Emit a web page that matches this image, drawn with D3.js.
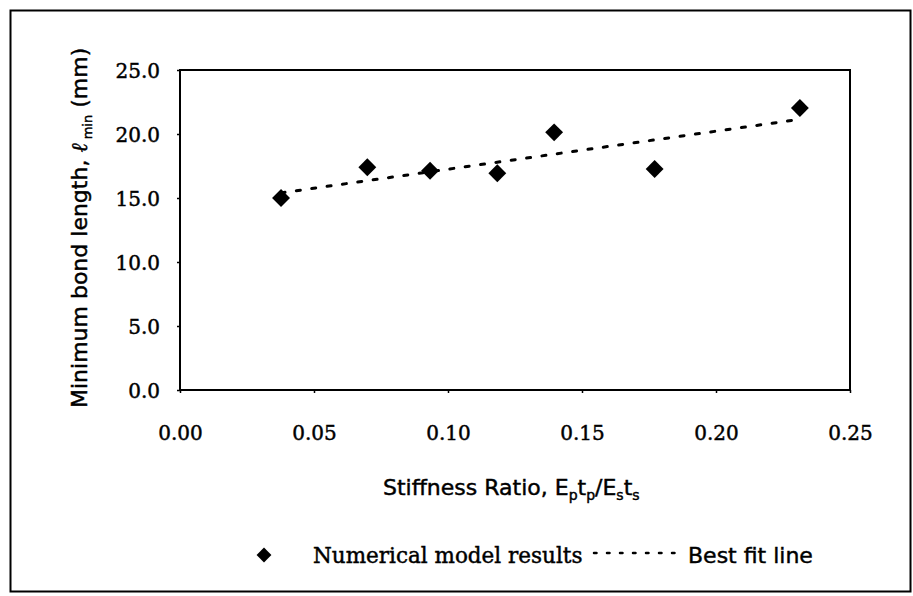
<!DOCTYPE html>
<html>
<head>
<meta charset="utf-8">
<script src="https://cdn.jsdelivr.net/npm/d3@7"></script>
<style>
  html, body { margin: 0; padding: 0; background: #fff; }
  svg { display: block; }
  text { stroke: #000; stroke-width: 0.45px; }
</style>
</head>
<body>
<svg id="chart" width="913" height="596"></svg>
<script>
// ---- data ----
const stiffnessRatio = [0.0377, 0.0699, 0.0933, 0.1184, 0.1396, 0.1771, 0.2313];
const minBondLength  = [15.0, 17.4, 17.13, 16.93, 20.13, 17.27, 22.03];
const fitX = [0.0377, 0.2313];
const fitY = [15.4, 21.15];
const xTicks = [0.00, 0.05, 0.10, 0.15, 0.20, 0.25];
const yTicks = [0, 5, 10, 15, 20, 25];
const seriesNames = ["Numerical model results", "Best fit line"];

// ---- layout ----
const svg = d3.select("#chart");
const plot = { left: 180, top: 70, right: 850, bottom: 390 };

const x = d3.scaleLinear().domain([0, 0.25]).range([plot.left, plot.right]);
const y = d3.scaleLinear().domain([0, 25]).range([plot.bottom, plot.top]);

const serif = "'DejaVu Serif', 'Liberation Serif', serif";
const sans = "'DejaVu Sans', sans-serif";

// outer frame
svg.append("rect")
  .attr("x", 10.5).attr("y", 10.5)
  .attr("width", 900).attr("height", 581)
  .attr("fill", "none").attr("stroke", "#000").attr("stroke-width", 2);

// plot box
svg.append("rect")
  .attr("x", plot.left).attr("y", plot.top)
  .attr("width", plot.right - plot.left).attr("height", plot.bottom - plot.top)
  .attr("fill", "none").attr("stroke", "#000").attr("stroke-width", 2);

// axes
const yAxis = d3.axisLeft(y).tickValues(yTicks).tickSize(3).tickFormat(d3.format(".1f"));
const gy = svg.append("g").attr("transform", `translate(${plot.left},0)`).call(yAxis);
gy.select(".domain").remove();
gy.selectAll(".tick line").attr("stroke", "#000").attr("stroke-width", 1.5);
gy.selectAll(".tick text")
  .attr("x", -20).attr("dy", "0.35em")
  .attr("font-family", serif).attr("font-size", 20).attr("fill", "#000");

const xAxis = d3.axisBottom(x).tickValues(xTicks).tickSize(3).tickFormat(d3.format(".2f"));
const gx = svg.append("g").attr("transform", `translate(0,${plot.bottom})`).call(xAxis);
gx.select(".domain").remove();
gx.selectAll(".tick line").attr("stroke", "#000").attr("stroke-width", 1.5);
gx.selectAll(".tick text")
  .attr("y", 50).attr("dy", 0)
  .attr("font-family", serif).attr("font-size", 20).attr("fill", "#000");

// best fit line
const line = d3.line().x(d => x(d[0])).y(d => y(d[1]));
svg.append("path")
  .datum(d3.zip(fitX, fitY))
  .attr("d", line)
  .attr("fill", "none").attr("stroke", "#000")
  .attr("stroke-width", 3).attr("stroke-dasharray", "4 11.5")
  .attr("stroke-linecap", "round");

// points (diamonds)
const diamond = d3.symbol().type(d3.symbolSquare).size(160);
svg.append("g").selectAll("path")
  .data(d3.zip(stiffnessRatio, minBondLength))
  .join("path")
  .attr("d", diamond)
  .attr("transform", d => `translate(${x(d[0])},${y(d[1])}) rotate(45)`)
  .attr("fill", "#000");

// y axis title
const yt = svg.append("text")
  .attr("transform", "translate(87,408) rotate(-90)")
  .attr("font-family", sans).attr("font-size", 22).attr("fill", "#000");
yt.append("tspan").text("Minimum bond length,  ");
yt.append("tspan").attr("font-family", serif).attr("font-style", "italic").text("ℓ");
yt.append("tspan").attr("font-size", 13).attr("dy", 5).text(" min");
yt.append("tspan").attr("dy", -5).text(" (mm)");

// x axis title
const xt = svg.append("text")
  .attr("x", 383).attr("y", 495)
  .attr("font-family", sans).attr("font-size", 22).attr("fill", "#000");
xt.append("tspan").text("Stiffness Ratio, E");
xt.append("tspan").attr("font-size", 14).attr("dy", 5).text("p");
xt.append("tspan").attr("dy", -5).text("t");
xt.append("tspan").attr("font-size", 14).attr("dy", 5).text("p");
xt.append("tspan").attr("dy", -5).text("/E");
xt.append("tspan").attr("font-size", 14).attr("dy", 5).text("s");
xt.append("tspan").attr("dy", -5).text("t");
xt.append("tspan").attr("font-size", 14).attr("dy", 5).text("s");

// legend
const lg = svg.append("g");
lg.append("path")
  .attr("d", d3.symbol().type(d3.symbolSquare).size(110)())
  .attr("transform", "translate(264,555) rotate(45)")
  .attr("fill", "#000");
lg.append("text")
  .attr("x", 313).attr("y", 563)
  .attr("font-family", serif).attr("font-size", 21.5).attr("fill", "#000")
  .text(seriesNames[0]);
lg.append("line")
  .attr("x1", 594).attr("x2", 684).attr("y1", 553).attr("y2", 553)
  .attr("stroke", "#000").attr("stroke-width", 2.5)
  .attr("stroke-dasharray", "2.5 10.5").attr("stroke-linecap", "round");
lg.append("text")
  .attr("x", 688).attr("y", 563)
  .attr("font-family", sans).attr("font-size", 22).attr("fill", "#000")
  .text(seriesNames[1]);
</script>
</body>
</html>
